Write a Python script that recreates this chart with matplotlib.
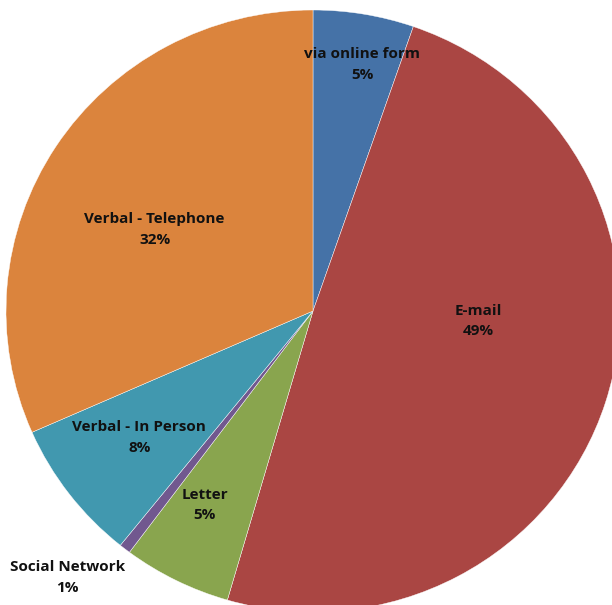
import numpy as np
import matplotlib
matplotlib.use('Agg')
import matplotlib.pyplot as plt

labels = ['via online form', 'E-mail', 'Letter', 'Social Network',
          'Verbal - In Person', 'Verbal - Telephone']
values = [5.3, 49.2, 5.7, 0.6, 7.6, 31.6]
pct_labels = ['5%', '49%', '5%', '1%', '8%', '32%']
colors = ['#4572A7', '#AA4643', '#89A54E', '#71588F', '#4198AF', '#DB843D']

# label centres, in units of the pie radius
label_xy = [(0.161, 0.819), (0.539, -0.033), (-0.352, -0.645),
            (-0.799, -0.885), (-0.566, -0.421), (-0.516, 0.270)]

fig = plt.figure(figsize=(6.12, 6.05), dpi=100)
ax = fig.add_axes([0, 0, 1, 1])

wedges, _ = ax.pie(values, colors=colors, startangle=90, counterclock=False,
                   radius=1.0, wedgeprops=dict(linewidth=0.3, edgecolor='white'))

for lab, pct, (x, y) in zip(labels, pct_labels, label_xy):
    ax.text(x, y, lab + '\n' + pct, ha='center', va='center',
            fontsize=11, fontweight='bold', family='Open Sans',
            linespacing=1.6, color='#111111')

# pie is slightly wider than tall in the original
ax.set_xlim(-313 / 307, (612 - 313) / 307)
ax.set_ylim(-(605 - 311) / 301, 311 / 301)
ax.set_aspect('auto')
ax.axis('off')

plt.savefig('out.png', dpi=100)
